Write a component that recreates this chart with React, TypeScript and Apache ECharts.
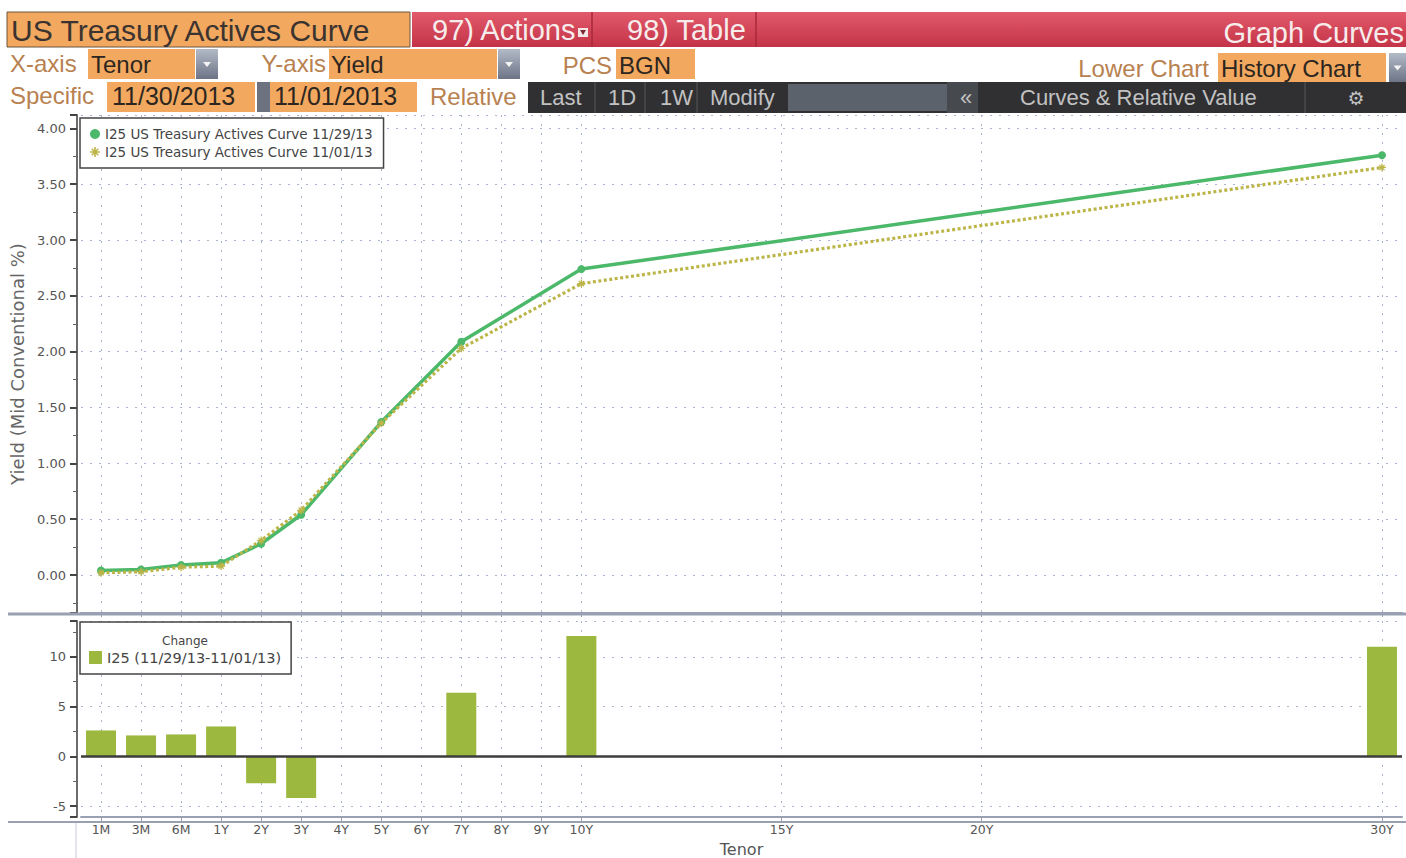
import React, { useEffect, useRef } from 'react';
import * as echarts from 'echarts';

// ---------- data ----------
const axisCategories: string[] = ['1M', '3M', '6M', ...Array.from({ length: 30 }, (_, i) => `${i + 1}Y`)];
const tickLabels = ['1M', '3M', '6M', '1Y', '2Y', '3Y', '4Y', '5Y', '6Y', '7Y', '8Y', '9Y', '10Y', '15Y', '20Y', '30Y'];
const tenors = ['1M', '3M', '6M', '1Y', '2Y', '3Y', '5Y', '7Y', '10Y', '30Y'];
const yieldNov29 = [0.04, 0.05, 0.09, 0.11, 0.28, 0.54, 1.37, 2.09, 2.74, 3.76];
const yieldNov01 = [0.02, 0.03, 0.07, 0.08, 0.31, 0.58, 1.36, 2.03, 2.61, 3.65];
const changeBp = [2.6, 2.1, 2.2, 3.0, -2.7, -4.2, 0, 6.4, 12.1, 11.0];

const NAME1 = 'I25 US Treasury Actives Curve 11/29/13';
const NAME2 = 'I25 US Treasury Actives Curve 11/01/13';
const BARNAME = 'I25 (11/29/13-11/01/13)';

const FONT = "'DejaVu Sans', sans-serif";
const HFONT = "'Liberation Sans', Arial, sans-serif";
const GREEN = '#4cb86a';
const OLIVE = '#bcb548';
const BARC = '#9db83f';
const ORANGE = '#f2a85f';
const TAN = '#b8814f';
const GRIDC = '#aab3cf';

const ASTERISK =
  'path://M4.2,0H5.8V10H4.2Z M0,4.2H10V5.8H0Z M1.2,2.3L2.3,1.2L8.8,7.7L7.7,8.8Z M7.7,1.2L8.8,2.3L2.3,8.8L1.2,7.7Z';

const showTick = (_i: number, v: string) => tickLabels.includes(v);

function rect(x: number, y: number, w: number, h: number, fill: any, stroke?: string) {
  return {
    type: 'rect',
    shape: { x, y, width: w, height: h },
    style: { fill, stroke: stroke || 'none', lineWidth: stroke ? 1 : 0 },
    silent: true,
  };
}
function txt(x: number, y: number, text: string, size: number, fill: string, align = 'left', family = HFONT) {
  return {
    type: 'text',
    x,
    y,
    silent: true,
    z: 100,
    style: { text, fill, fontSize: size, fontFamily: family, align, verticalAlign: 'middle' },
  };
}
function vline(x: number, y1: number, y2: number, color: string, w = 1) {
  return { type: 'line', shape: { x1: x, y1, x2: x, y2 }, style: { stroke: color, lineWidth: w }, silent: true };
}
function hline(x1: number, x2: number, y: number, color: string, w = 1) {
  return { type: 'line', shape: { x1, y1: y, x2, y2: y }, style: { stroke: color, lineWidth: w }, silent: true, z: 50 };
}
function dropBtn(x: number, y: number, w: number, h: number) {
  const cx = x + w / 2;
  const cy = y + h / 2;
  return [
    rect(x, y, w, h, new echarts.graphic.LinearGradient(0, 0, 0, 1, [
      { offset: 0, color: '#b3bac7' },
      { offset: 1, color: '#6c7486' },
    ])),
    {
      type: 'polygon',
      shape: { points: [[cx - 4, cy - 2], [cx + 4, cy - 2], [cx, cy + 3]] },
      style: { fill: '#f4f4f4' },
      silent: true,
    },
  ];
}

function buildHeader(): any[] {
  const redGrad = new echarts.graphic.LinearGradient(0, 0, 0, 1, [
    { offset: 0, color: '#e25a6b' },
    { offset: 1, color: '#c43347' },
  ]);
  const els: any[] = [];
  // row 1
  els.push(rect(7, 12, 403, 35, ORANGE, '#6a5440'));
  els.push(txt(11, 30, 'US Treasury Actives Curve', 30, '#3b3330'));
  els.push(rect(412, 12, 994, 35, redGrad));
  els.push(vline(592, 12, 47, '#a9283a', 1.5));
  els.push(vline(756, 12, 47, '#a9283a', 1.5));
  els.push(txt(432, 30, '97) Actions', 29, '#f7ecec'));
  els.push(rect(578, 28, 10, 9, '#f3e6e6'));
  els.push({
    type: 'polygon',
    shape: { points: [[580, 30], [586, 30], [583, 35]] },
    style: { fill: '#7a2a33' },
    silent: true,
  });
  els.push(txt(627, 30, '98) Table', 29, '#f7ecec'));
  els.push(txt(1404, 33, 'Graph Curves', 29, '#f7ecec', 'right'));
  // row 2
  els.push(txt(10, 63, 'X-axis', 24, TAN));
  els.push(rect(88, 49, 107, 30, ORANGE));
  els.push(txt(91, 64, 'Tenor', 24, '#2d2620'));
  els.push(...dropBtn(196, 49, 22, 30));
  els.push(txt(326, 63, 'Y-axis', 24, TAN, 'right'));
  els.push(rect(329, 49, 168, 30, ORANGE));
  els.push(txt(331, 64, 'Yield', 24, '#2d2620'));
  els.push(...dropBtn(498, 49, 22, 30));
  els.push(txt(612, 65, 'PCS', 24, TAN, 'right'));
  els.push(rect(616, 49, 79, 30, ORANGE));
  els.push(txt(619, 65, 'BGN', 24, '#2d2620'));
  els.push(txt(1209, 68, 'Lower Chart', 24, TAN, 'right'));
  els.push(rect(1218, 53, 168, 29, ORANGE));
  els.push(txt(1221, 68, 'History Chart', 24, '#2d2620'));
  els.push(...dropBtn(1389, 53, 17, 29));
  // row 3
  els.push(txt(10, 95, 'Specific', 24, TAN));
  els.push(rect(107, 82, 148, 30, ORANGE));
  els.push(txt(112, 96, '11/30/2013', 25, '#2d2620'));
  els.push(rect(257, 82, 13, 30, '#6d7280'));
  els.push(rect(270, 82, 147, 30, ORANGE));
  els.push(txt(274, 96, '11/01/2013', 25, '#2d2620'));
  els.push(txt(430, 96, 'Relative', 24, TAN));
  els.push(rect(528, 82, 878, 31, '#303033'));
  els.push(vline(595, 82, 113, '#56575b'));
  els.push(vline(645, 82, 113, '#56575b'));
  els.push(vline(697, 82, 113, '#56575b'));
  els.push(txt(540, 97, 'Last', 22, '#c2c2c2'));
  els.push(txt(608, 97, '1D', 22, '#c2c2c2'));
  els.push(txt(660, 97, '1W', 22, '#c2c2c2'));
  els.push(txt(710, 97, 'Modify', 22, '#c2c2c2'));
  els.push(rect(788, 84, 159, 27, '#5c626c'));
  els.push(rect(947, 82, 31, 31, '#46494e'));
  els.push(txt(966, 97, '«', 22, '#c2c2c2', 'center'));
  els.push(txt(1020, 97, 'Curves & Relative Value', 22, '#c2c2c2'));
  els.push(vline(1305, 82, 113, '#56575b'));
  els.push(txt(1356, 98, '⚙', 19, '#c2c2c2', 'center', FONT));
  return els;
}

function buildOption(): any {
  const grid = GRIDC;
  return {
    animation: false,
    backgroundColor: '#ffffff',
    grid: [
      { left: 81, right: 4, top: 115, height: 498 },
      { left: 81, right: 4, top: 621, height: 200 },
    ],
    xAxis: [
      {
        type: 'category',
        gridIndex: 0,
        data: axisCategories,
        boundaryGap: true,
        axisLine: { show: true, onZero: false, lineStyle: { color: '#98a0b2', width: 3 } },
        axisTick: { show: true, alignWithLabel: true, interval: showTick, length: 4, lineStyle: { color: '#98a0b2' } },
        axisLabel: { show: false },
        splitLine: {
          show: true,
          alignWithLabel: true,
          interval: showTick,
          lineStyle: { color: grid, type: [2, 7], width: 1 },
        },
      },
      {
        type: 'category',
        gridIndex: 1,
        data: axisCategories,
        boundaryGap: true,
        axisLine: { show: true, onZero: false, lineStyle: { color: '#98a0b2', width: 2 } },
        axisTick: { show: true, alignWithLabel: true, interval: showTick, length: 4, lineStyle: { color: '#98a0b2' } },
        axisLabel: { interval: showTick, color: '#555', fontSize: 12.5, fontFamily: FONT, margin: 6 },
        splitLine: {
          show: true,
          alignWithLabel: true,
          interval: showTick,
          lineStyle: { color: grid, type: [2, 7], width: 1 },
        },
        name: 'Tenor',
        nameLocation: 'middle',
        nameGap: 24,
        nameTextStyle: { color: '#555', fontSize: 16, fontFamily: FONT },
      },
    ],
    yAxis: [
      {
        type: 'value',
        gridIndex: 0,
        min: -0.34,
        max: 4.12,
        splitNumber: 9,
        offset: 4,
        axisLine: { show: true, lineStyle: { color: '#6b6b6b', width: 2 } },
        axisTick: { show: true, length: 7, lineStyle: { color: '#444', width: 2 } },
        minorTick: { show: true, splitNumber: 2, length: 4, lineStyle: { color: '#666' } },
        axisLabel: {
          showMinLabel: false,
          showMaxLabel: false,
          formatter: (v: number) => v.toFixed(2),
          color: '#555',
          fontSize: 13,
          fontFamily: FONT,
          margin: 11,
        },
        splitLine: { show: true, lineStyle: { color: grid, type: [2, 7], width: 1 } },
        name: 'Yield (Mid Conventional %)',
        nameLocation: 'middle',
        nameGap: 46,
        nameTextStyle: { color: '#666', fontSize: 18, fontFamily: FONT },
      },
      {
        type: 'value',
        gridIndex: 1,
        min: -6.1,
        max: 13.6,
        splitNumber: 4,
        offset: 4,
        axisLine: { show: true, lineStyle: { color: '#6b6b6b', width: 2 } },
        axisTick: { show: true, length: 7, lineStyle: { color: '#444', width: 2 } },
        minorTick: { show: true, splitNumber: 2, length: 4, lineStyle: { color: '#666' } },
        axisLabel: {
          showMinLabel: false,
          showMaxLabel: false,
          formatter: (v: number) => String(v),
          color: '#555',
          fontSize: 13,
          fontFamily: FONT,
          margin: 11,
        },
        splitLine: { show: true, lineStyle: { color: grid, type: [2, 7], width: 1 } },
      },
    ],
    legend: [
      {
        data: [
          { name: NAME1, icon: 'circle' },
          { name: NAME2, icon: ASTERISK },
        ],
        orient: 'vertical',
        left: 80,
        top: 118,
        itemGap: 4,
        itemWidth: 10,
        itemHeight: 10,
        padding: [9, 11, 9, 10],
        backgroundColor: '#ffffff',
        borderColor: '#444',
        borderWidth: 1.5,
        selectedMode: false,
        textStyle: { fontSize: 13.5, color: '#444', fontFamily: FONT },
      },
      {
        data: [{ name: BARNAME, icon: 'rect' }],
        left: 80,
        top: 622,
        itemWidth: 13,
        itemHeight: 13,
        padding: [28, 10, 9, 9],
        backgroundColor: '#ffffff',
        borderColor: '#444',
        borderWidth: 1.5,
        selectedMode: false,
        textStyle: { fontSize: 14.5, color: '#444', fontFamily: FONT },
      },
    ],
    graphic: [
      ...buildHeader(),
      hline(8, 1406, 614, '#98a0b2', 3),
      hline(8, 1406, 822, '#98a0b2', 2),
      vline(76, 823, 858, '#c5cad6', 1),
      txt(185, 641, 'Change', 12, '#444', 'center', FONT),
    ],
    series: [
      {
        type: 'line',
        name: NAME1,
        xAxisIndex: 0,
        yAxisIndex: 0,
        data: tenors.map((t, i) => [t, yieldNov29[i]]),
        symbol: 'circle',
        symbolSize: 8,
        itemStyle: { color: GREEN },
        lineStyle: { color: GREEN, width: 3.5 },
        z: 3,
      },
      {
        type: 'line',
        name: NAME2,
        xAxisIndex: 0,
        yAxisIndex: 0,
        data: tenors.map((t, i) => [t, yieldNov01[i]]),
        symbol: ASTERISK,
        symbolSize: 8,
        itemStyle: { color: OLIVE },
        lineStyle: { color: OLIVE, width: 3.2, type: [3, 2.5] },
        z: 4,
      },
      {
        type: 'bar',
        name: BARNAME,
        xAxisIndex: 1,
        yAxisIndex: 1,
        data: tenors.map((t, i) => [t, changeBp[i]]),
        barWidth: 30,
        itemStyle: { color: BARC },
        markLine: {
          silent: true,
          symbol: 'none',
          label: { show: false },
          lineStyle: { color: '#3d3d3d', width: 2.5, type: 'solid' },
          data: [{ yAxis: 0 }],
        },
      },
    ],
  };
}

export default function App() {
  const ref = useRef<HTMLDivElement>(null);
  useEffect(() => {
    if (!ref.current) return;
    const chart = echarts.init(ref.current, undefined, { renderer: 'svg' });
    chart.setOption(buildOption());
    return () => chart.dispose();
  }, []);
  return (
    <div style={{ position: 'fixed', left: 0, top: 0, width: 1406, height: 858, background: '#fff' }}>
      <div ref={ref} style={{ width: 1406, height: 858 }} />
    </div>
  );
}
